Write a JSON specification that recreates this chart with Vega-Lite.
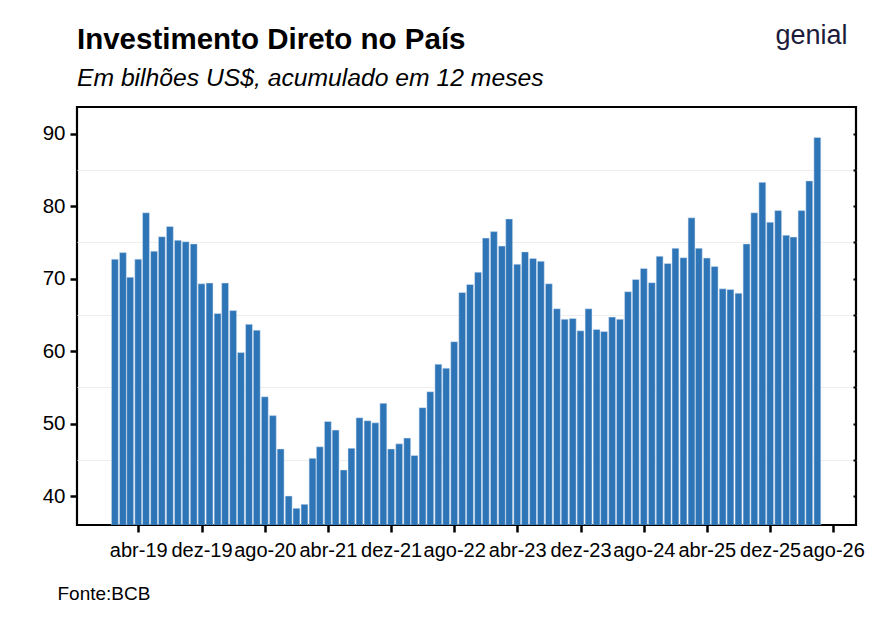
{
  "$schema": "https://vega.github.io/schema/vega-lite/v6.json",
  "autosize": {"type": "none"},
  "padding": {"left": 77, "top": 107, "right": 27, "bottom": 105},
  "width": 779,
  "height": 418,
  "background": "white",
  "title": {
    "text": "Investimento Direto no País",
    "subtitle": "Em bilhões US$, acumulado em 12 meses",
    "anchor": "start",
    "frame": "group",
    "font": "Liberation Sans",
    "fontSize": 29.5,
    "fontWeight": "bold",
    "color": "black",
    "subtitleFont": "Liberation Sans",
    "subtitleFontSize": 24.7,
    "subtitleFontStyle": "italic",
    "subtitleColor": "black",
    "offset": -71,
    "subtitlePadding": 10.5
  },
  "data": {
    "values": [
      {"mes": "2019-01-01", "valor": 72.7},
      {"mes": "2019-02-01", "valor": 73.6},
      {"mes": "2019-03-01", "valor": 70.2},
      {"mes": "2019-04-01", "valor": 72.7},
      {"mes": "2019-05-01", "valor": 79.1},
      {"mes": "2019-06-01", "valor": 73.8},
      {"mes": "2019-07-01", "valor": 75.8},
      {"mes": "2019-08-01", "valor": 77.2},
      {"mes": "2019-09-01", "valor": 75.3},
      {"mes": "2019-10-01", "valor": 75.1},
      {"mes": "2019-11-01", "valor": 74.8},
      {"mes": "2019-12-01", "valor": 69.3},
      {"mes": "2020-01-01", "valor": 69.4},
      {"mes": "2020-02-01", "valor": 65.2},
      {"mes": "2020-03-01", "valor": 69.4},
      {"mes": "2020-04-01", "valor": 65.6},
      {"mes": "2020-05-01", "valor": 59.8},
      {"mes": "2020-06-01", "valor": 63.7},
      {"mes": "2020-07-01", "valor": 62.9},
      {"mes": "2020-08-01", "valor": 53.7},
      {"mes": "2020-09-01", "valor": 51.1},
      {"mes": "2020-10-01", "valor": 46.5},
      {"mes": "2020-11-01", "valor": 40.0},
      {"mes": "2020-12-01", "valor": 38.3},
      {"mes": "2021-01-01", "valor": 38.85},
      {"mes": "2021-02-01", "valor": 45.2},
      {"mes": "2021-03-01", "valor": 46.8},
      {"mes": "2021-04-01", "valor": 50.3},
      {"mes": "2021-05-01", "valor": 49.1},
      {"mes": "2021-06-01", "valor": 43.6},
      {"mes": "2021-07-01", "valor": 46.6},
      {"mes": "2021-08-01", "valor": 50.8},
      {"mes": "2021-09-01", "valor": 50.4},
      {"mes": "2021-10-01", "valor": 50.1},
      {"mes": "2021-11-01", "valor": 52.8},
      {"mes": "2021-12-01", "valor": 46.5},
      {"mes": "2022-01-01", "valor": 47.2},
      {"mes": "2022-02-01", "valor": 48.0},
      {"mes": "2022-03-01", "valor": 45.6},
      {"mes": "2022-04-01", "valor": 52.2},
      {"mes": "2022-05-01", "valor": 54.4},
      {"mes": "2022-06-01", "valor": 58.2},
      {"mes": "2022-07-01", "valor": 57.65},
      {"mes": "2022-08-01", "valor": 61.3},
      {"mes": "2022-09-01", "valor": 68.1},
      {"mes": "2022-10-01", "valor": 69.2},
      {"mes": "2022-11-01", "valor": 70.9},
      {"mes": "2022-12-01", "valor": 75.6},
      {"mes": "2023-01-01", "valor": 76.5},
      {"mes": "2023-02-01", "valor": 74.5},
      {"mes": "2023-03-01", "valor": 78.25},
      {"mes": "2023-04-01", "valor": 72.0},
      {"mes": "2023-05-01", "valor": 73.7},
      {"mes": "2023-06-01", "valor": 72.8},
      {"mes": "2023-07-01", "valor": 72.4},
      {"mes": "2023-08-01", "valor": 69.3},
      {"mes": "2023-09-01", "valor": 65.85},
      {"mes": "2023-10-01", "valor": 64.4},
      {"mes": "2023-11-01", "valor": 64.5},
      {"mes": "2023-12-01", "valor": 62.8},
      {"mes": "2024-01-01", "valor": 65.85},
      {"mes": "2024-02-01", "valor": 63.0},
      {"mes": "2024-03-01", "valor": 62.7},
      {"mes": "2024-04-01", "valor": 64.7},
      {"mes": "2024-05-01", "valor": 64.4},
      {"mes": "2024-06-01", "valor": 68.2},
      {"mes": "2024-07-01", "valor": 69.9},
      {"mes": "2024-08-01", "valor": 71.4},
      {"mes": "2024-09-01", "valor": 69.45},
      {"mes": "2024-10-01", "valor": 73.1},
      {"mes": "2024-11-01", "valor": 72.1},
      {"mes": "2024-12-01", "valor": 74.2},
      {"mes": "2025-01-01", "valor": 72.9},
      {"mes": "2025-02-01", "valor": 78.4},
      {"mes": "2025-03-01", "valor": 74.2},
      {"mes": "2025-04-01", "valor": 72.85},
      {"mes": "2025-05-01", "valor": 71.7},
      {"mes": "2025-06-01", "valor": 68.6},
      {"mes": "2025-07-01", "valor": 68.5},
      {"mes": "2025-08-01", "valor": 68.0},
      {"mes": "2025-09-01", "valor": 74.8},
      {"mes": "2025-10-01", "valor": 79.1},
      {"mes": "2025-11-01", "valor": 83.3},
      {"mes": "2025-12-01", "valor": 77.8},
      {"mes": "2026-01-01", "valor": 79.4},
      {"mes": "2026-02-01", "valor": 76.0},
      {"mes": "2026-03-01", "valor": 75.75},
      {"mes": "2026-04-01", "valor": 79.4},
      {"mes": "2026-05-01", "valor": 83.5},
      {"mes": "2026-06-01", "valor": 89.5}
    ]
  },
  "layer": [
    {
      "mark": {"type": "bar", "size": 6.9, "color": "#2E75B7", "stroke": "#dbe7f4", "strokeWidth": 0.5, "clip": true},
      "encoding": {
        "x": {
          "field": "mes",
          "type": "temporal",
          "scale": {
            "type": "utc",
            "padding": 0,
            "domain": [
              {"year": 2018, "month": 8, "date": 8, "utc": true},
              {"year": 2026, "month": 10, "date": 28, "utc": true}
            ]
          },
          "axis": {
            "title": "Fonte:BCB",
            "titleFont": "Liberation Sans",
            "titleFontSize": 19,
            "titleFontWeight": "normal",
            "titleColor": "black",
            "titleAnchor": "start",
            "titleAlign": "left",
            "titleBaseline": "alphabetic",
            "titleX": -20,
            "titleY": 74,
            "values": [
              {"year": 2019, "month": 4, "date": 1, "utc": true},
              {"year": 2019, "month": 12, "date": 1, "utc": true},
              {"year": 2020, "month": 8, "date": 1, "utc": true},
              {"year": 2021, "month": 4, "date": 1, "utc": true},
              {"year": 2021, "month": 12, "date": 1, "utc": true},
              {"year": 2022, "month": 8, "date": 1, "utc": true},
              {"year": 2023, "month": 4, "date": 1, "utc": true},
              {"year": 2023, "month": 12, "date": 1, "utc": true},
              {"year": 2024, "month": 8, "date": 1, "utc": true},
              {"year": 2025, "month": 4, "date": 1, "utc": true},
              {"year": 2025, "month": 12, "date": 1, "utc": true},
              {"year": 2026, "month": 8, "date": 1, "utc": true}
            ],
            "labelExpr": "['jan','fev','mar','abr','mai','jun','jul','ago','set','out','nov','dez'][utcmonth(datum.value)] + '-' + utcFormat(datum.value, '%y')",
            "labelFont": "Liberation Sans",
            "labelFontSize": 20,
            "labelColor": "black",
            "labelPadding": 8,
            "labelOverlap": false,
            "labelFlush": false,
            "tickSize": 7,
            "tickWidth": 2.5,
            "tickColor": "black",
            "domain": false,
            "grid": false
          }
        },
        "y": {
          "field": "valor",
          "type": "quantitative",
          "scale": {"domain": [36, 93.7], "nice": false, "zero": false},
          "axis": {
            "title": null,
            "values": [40, 50, 60, 70, 80, 90],
            "labelFont": "Liberation Sans",
            "labelFontSize": 20.5,
            "labelColor": "black",
            "labelPadding": 5,
            "tickSize": 7,
            "tickWidth": 2.5,
            "tickColor": "black",
            "domain": false,
            "grid": false
          }
        }
      }
    },
    {
      "mark": {"type": "rule", "strokeOpacity": 0},
      "encoding": {
        "y": {
          "datum": 40,
          "type": "quantitative",
          "axis": {
            "orient": "right",
            "title": "genial",
            "titleFont": "Liberation Sans",
            "titleFontSize": 27,
            "titleFontWeight": "normal",
            "titleColor": "#1c1b3b",
            "titleAngle": 0,
            "titleAlign": "left",
            "titleBaseline": "alphabetic",
            "titleX": -81,
            "titleY": -64,
            "values": [40, 45, 50, 55, 60, 65, 70, 75, 80, 85, 90],
            "labels": false,
            "tickSize": -3,
            "tickWidth": 2,
            "tickColor": "black",
            "domain": false,
            "grid": true,
            "gridColor": {"condition": {"test": "datum.value % 10 === 0", "value": "transparent"}, "value": "#eeeeee"},
            "gridWidth": 1
          }
        }
      }
    }
  ],
  "resolve": {"axis": {"y": "independent"}},
  "config": {
    "view": {"stroke": "black", "strokeWidth": 2.2},
    "axis": {"zindex": 0}
  }
}
